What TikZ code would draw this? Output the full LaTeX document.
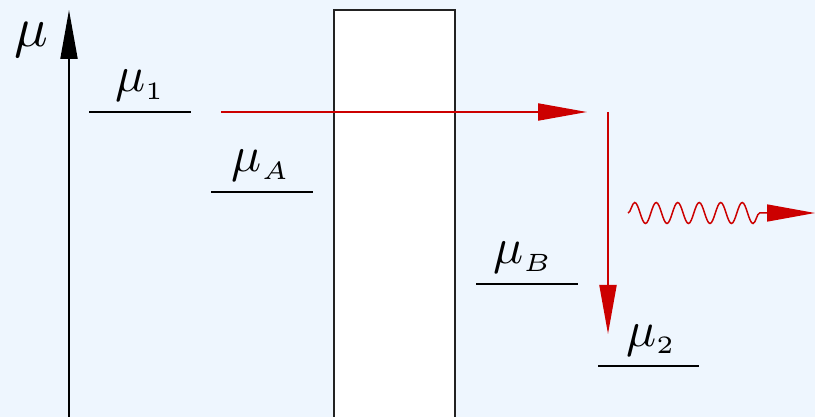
\documentclass[tikz,border=0pt]{standalone}
\usepackage{graphicx}
\usetikzlibrary{arrows.meta,decorations.pathmorphing}
\definecolor{bgblue}{RGB}{238,246,254}
\definecolor{arrred}{RGB}{204,0,0}
\definecolor{boxline}{RGB}{34,34,34}
\newcommand{\bigmath}[2]{\scalebox{#1}{$#2$}}
\tikzset{
  level/.style={line width=2pt, black},
  lbl/.style={anchor=base, inner sep=0pt},
  bigtip/.style={-{Triangle[length=49pt,width=17pt]}},
  redarr/.style={arrred, line width=2pt, bigtip},
  wavearr/.style={arrred, line width=1.5pt, -{Triangle[length=48pt,width=17pt]},
    decorate, decoration={snake, amplitude=10.5pt, segment length=21.5pt, post length=52pt}},
  axis/.style={line width=2pt, black, bigtip},
  barrier/.style={draw=boxline, fill=white, line width=2pt, minimum width=121pt, minimum height=420pt, inner sep=0pt}
}
\begin{document}
\begin{tikzpicture}[x=1pt,y=-1pt]
\useasboundingbox[fill=bgblue] (0,0) rectangle (815,417);
% barrier
\node[barrier, anchor=north west] (box) at (333,9) {};
% axis
\coordinate (ax0) at (69,417);
\coordinate (ax1) at (69,10);
\draw[axis] (ax0) -- (ax1);
\node[lbl] (mu) at (31,47) {\bigmath{5.6}{\mu}};
% levels
\coordinate (l1a) at (89,112);  \coordinate (l1b) at (191,112);
\coordinate (lAa) at (211,192); \coordinate (lAb) at (313,192);
\coordinate (lBa) at (476,284); \coordinate (lBb) at (578,284);
\coordinate (l2a) at (598,366); \coordinate (l2b) at (699,366);
\draw[level] (l1a) -- (l1b);
\draw[level] (lAa) -- (lAb);
\draw[level] (lBa) -- (lBb);
\draw[level] (l2a) -- (l2b);
\node[lbl] (m1) at (140,92) {\bigmath{5}{\mu_{\scriptscriptstyle 1}}};
\node[lbl] (mA) at (261,172) {\bigmath{5}{\mu_{\scriptscriptstyle A}}};
\node[lbl] (mB) at (523,264) {\bigmath{5}{\mu_{\scriptscriptstyle B}}};
\node[lbl] (m2) at (651,346) {\bigmath{5}{\mu_{\scriptscriptstyle 2}}};
% red arrows
\coordinate (h0) at (221,112);
\coordinate (h1) at (587,112);
\draw[redarr] (h0) -- (h1);
\coordinate (v0) at (608,112);
\coordinate (v1) at (608,334);
\draw[redarr] (v0) -- (v1);
\coordinate (w0) at (628,213);
\coordinate (w1) at (815,213);
\draw[wavearr] (w0) -- (w1);
\end{tikzpicture}
\end{document}
